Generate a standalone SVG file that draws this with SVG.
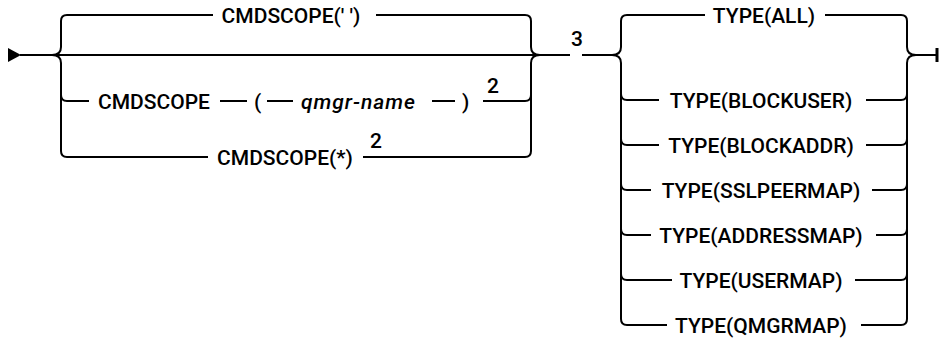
<svg xmlns="http://www.w3.org/2000/svg" width="939" height="345" viewBox="0 0 939 345">
<style>
.ln{fill:none;stroke:#000;stroke-width:2;stroke-linecap:butt}
.t{font-family:Roboto,"Liberation Sans",Arial,sans-serif;font-size:21px;font-weight:500;fill:#000}
.i{font-style:italic}
.m{text-anchor:middle}
</style>
<rect width="939" height="345" fill="#fff"/>
<g id="connectors" class="ln">
  <path d="M20,55 L570,55 M582,55 L614,55"/>
  <path d="M52,55 C58,55 61,52 61,47 L61,21 Q61,15 67,15"/>
  <path d="M52,55 C58,55 61,58 61,63 L61,151 Q61,157 67,157"/>
  <path d="M61,95 Q61,101 67,101"/>
  <path d="M525,15 Q531,15 531,21 L531,47 C531,52 534,55 540,55"/>
  <path d="M525,157 Q531,157 531,151 L531,63 C531,58 534,55 540,55"/>
  <path d="M525,101 Q531,101 531,95"/>
  <path d="M67,15 L213,15 M376,15 L525,15"/>
  <path d="M67,101 L89,101 M220,101 L247,101 M267,101 L293,101 M432,101 L455,101 M483,101 L525,101"/>
  <path d="M67,157 L208,157 M363,157 L525,157"/>
  <path d="M612,55 C618,55 621,52 621,47 L621,21 Q621,15 627,15"/>
  <path d="M612,55 C618,55 621,58 621,63 L621,319 Q621,325 627,325"/>
  <path d="M621,94 Q621,100 627,100 M621,139 Q621,145 627,145 M621,184 Q621,190 627,190 M621,229 Q621,235 627,235 M621,274 Q621,280 627,280"/>
  <path d="M901,15 Q907,15 907,21 L907,47 C907,52 910,55 916,55"/>
  <path d="M901,325 Q907,325 907,319 L907,63 C907,58 910,55 916,55"/>
  <path d="M901,100 Q907,100 907,94 M901,145 Q907,145 907,139 M901,190 Q907,190 907,184 M901,235 Q907,235 907,229 M901,280 Q907,280 907,274"/>
  <path d="M627,15 L705,15 M825,15 L901,15"/>
  <path d="M627,100 L659,100 M866,100 L901,100"/>
  <path d="M627,145 L659,145 M866,145 L901,145"/>
  <path d="M627,190 L651,190 M872,190 L901,190"/>
  <path d="M627,235 L651,235 M876,235 L901,235"/>
  <path d="M627,280 L672,280 M855,280 L901,280"/>
  <path d="M627,325 L667,325 M861,325 L901,325"/>
  <path d="M916,55 L936,55"/>
  <path d="M937,48 L937,62" style="stroke-width:3"/>
</g>
<g id="start-arrow"><polygon points="8,48 8,62 21,55" fill="#000"/></g>
<g id="cmdscope-blank"><text class="t m" x="291" y="22.5">CMDSCOPE(' ')</text></g>
<g id="cmdscope-qmgr">
  <text class="t" x="98" y="108.5">CMDSCOPE</text>
  <text class="t" x="254" y="108.5">(</text>
  <text class="t i" x="301" y="108.5" textLength="114" lengthAdjust="spacing">qmgr-name</text>
  <text class="t" x="462" y="108.5">)</text>
  <text class="t" x="487" y="93">2</text>
</g>
<g id="cmdscope-star">
  <text class="t m" x="285" y="164.5">CMDSCOPE(*)</text>
  <text class="t" x="370" y="148">2</text>
</g>
<g id="note-3"><text class="t" x="571" y="46">3</text></g>
<g id="type-all"><text class="t m" x="764" y="22.5">TYPE(ALL)</text></g>
<g id="type-blockuser"><text class="t m" x="761" y="107.5">TYPE(BLOCKUSER)</text></g>
<g id="type-blockaddr"><text class="t m" x="761" y="152.5">TYPE(BLOCKADDR)</text></g>
<g id="type-sslpeermap"><text class="t m" x="761" y="197.5">TYPE(SSLPEERMAP)</text></g>
<g id="type-addressmap"><text class="t m" x="761" y="242.5">TYPE(ADDRESSMAP)</text></g>
<g id="type-usermap"><text class="t m" x="761" y="287.5">TYPE(USERMAP)</text></g>
<g id="type-qmgrmap"><text class="t m" x="761" y="332.5">TYPE(QMGRMAP)</text></g>
</svg>
